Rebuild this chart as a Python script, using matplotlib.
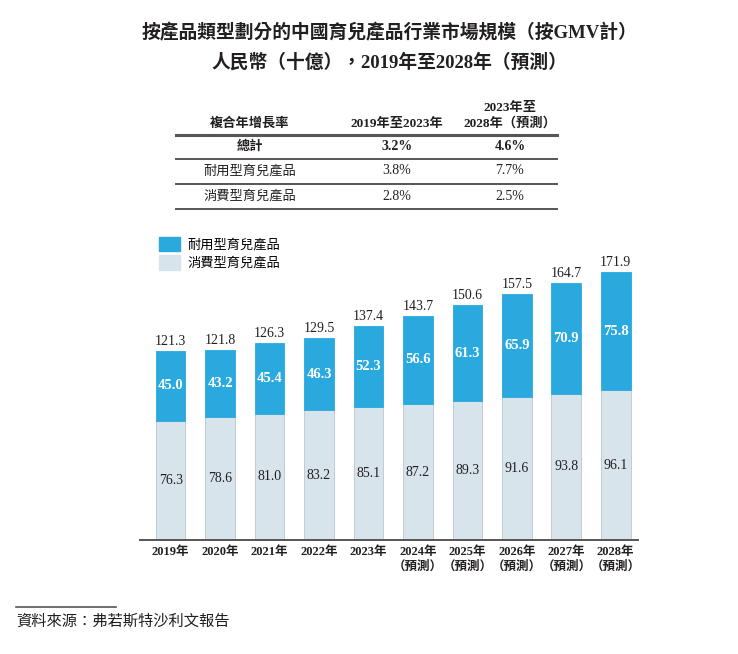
import numpy as np
import matplotlib.pyplot as plt
from matplotlib.patches import Patch
from matplotlib.lines import Line2D

plt.rcParams['font.family'] = ['Liberation Serif', 'Noto Sans CJK TC', 'DejaVu Sans']

years = ['2019年', '2020年', '2021年', '2022年', '2023年',
         '2024年\n（預測）', '2025年\n（預測）', '2026年\n（預測）',
         '2027年\n（預測）', '2028年\n（預測）']
durable = [45.0, 43.2, 45.4, 46.3, 52.3, 56.6, 61.3, 65.9, 70.9, 75.8]
consumable = [76.3, 78.6, 81.0, 83.2, 85.1, 87.2, 89.3, 91.6, 93.8, 96.1]
totals = [121.3, 121.8, 126.3, 129.5, 137.4, 143.7, 150.6, 157.5, 164.7, 171.9]

cagr_header = ['複合年增長率', '2019年至2023年', '2023年至\n2028年（預測）']
cagr_rows = ['總計', '耐用型育兒產品', '消費型育兒產品']
cagr_1923 = ['3.2%', '3.8%', '2.8%']
cagr_2328 = ['4.6%', '7.7%', '2.5%']

blue = '#2aa9df'
light = '#d7e4ec'
dark = '#231f20'

fig = plt.figure(figsize=(7.38, 6.54), dpi=100)

# title
fig.text(0.528, 0.950, '按產品類型劃分的中國育兒產品行業市場規模（按GMV計）',
         ha='center', va='center', fontsize=13.5, fontweight='bold', color=dark)
fig.text(0.528, 0.905, '人民幣（十億），2019年至2028年（預測）',
         ha='center', va='center', fontsize=13.5, fontweight='bold', color=dark)

# CAGR table, pixel coords converted to figure fraction
W, H = 738, 654
def fx(px):
    return px / W
def fy(py):
    return 1 - py / H

col_x = [250, 397, 510]
fig.text(fx(col_x[0]), fy(124), cagr_header[0], ha='center', va='center',
         fontsize=9.5, fontweight='bold', color=dark)
fig.text(fx(col_x[1]), fy(124), cagr_header[1], ha='center', va='center',
         fontsize=9.5, fontweight='bold', color=dark)
fig.text(fx(col_x[2]), fy(116), cagr_header[2], ha='center', va='center',
         fontsize=9.5, fontweight='bold', color=dark, linespacing=1.3)

line_y = [135, 159, 184, 209]
line_w = [2.2, 1.4, 1.4, 1.4]
for yy, lw in zip(line_y, line_w):
    fig.add_artist(Line2D([fx(176), fx(557)], [fy(yy), fy(yy)],
                          color='#555555', linewidth=lw))

row_y = [147, 171, 196]
for i, name in enumerate(cagr_rows):
    weight = 'bold' if i == 0 else 'normal'
    fig.text(fx(col_x[0]), fy(row_y[i]), name, ha='center', va='center',
             fontsize=9.5, fontweight=weight, color=dark)
    fig.text(fx(col_x[1]), fy(row_y[i]), cagr_1923[i], ha='center', va='center',
             fontsize=10, fontweight=weight, color=dark)
    fig.text(fx(col_x[2]), fy(row_y[i]), cagr_2328[i], ha='center', va='center',
             fontsize=10, fontweight=weight, color=dark)

# bar chart
ax = fig.add_axes([fx(140), fy(540), fx(638) - fx(140), (540 - 259.4) / H])
x = np.arange(len(years))
width = 0.6
ax.bar(x, consumable, width, color=light, edgecolor='#b9c6cf', linewidth=0.6)
ax.bar(x, durable, width, bottom=consumable, color=blue, edgecolor=blue, linewidth=0.6)

for i in range(len(years)):
    ax.text(x[i], consumable[i] / 2, f'{consumable[i]:.1f}', ha='center', va='center',
            fontsize=10, color=dark)
    ax.text(x[i], consumable[i] + durable[i] / 2, f'{durable[i]:.1f}', ha='center',
            va='center', fontsize=10.5, color='white', fontweight='bold')
    ax.text(x[i], totals[i] + 2.0, f'{totals[i]:.1f}', ha='center', va='bottom',
            fontsize=10, color=dark)

ax.set_xlim(-0.62, 9.45)
ax.set_ylim(0, 180)
ax.set_xticks(x)
ax.set_xticklabels(years, fontsize=9, fontweight='bold', color=dark, linespacing=1.35)
ax.tick_params(axis='x', length=0, pad=4)
ax.set_yticks([])
for s in ['top', 'right', 'left']:
    ax.spines[s].set_visible(False)
ax.spines['bottom'].set_color('#555555')
ax.spines['bottom'].set_linewidth(1.4)

handles = [Patch(facecolor=blue, edgecolor=blue, label='耐用型育兒產品'),
           Patch(facecolor=light, edgecolor=light, label='消費型育兒產品')]
fig.legend(handles=handles, loc='upper left', bbox_to_anchor=(fx(152), fy(230)),
           frameon=False, fontsize=9.5, handlelength=1.6, handleheight=1.3,
           handletextpad=0.6, labelspacing=0.3, borderpad=0)

# source footnote
fig.add_artist(Line2D([fx(16), fx(116)], [fy(607), fy(607)], color='#555555', linewidth=1.2))
fig.text(fx(16), fy(622), '資料來源：弗若斯特沙利文報告', ha='left', va='center',
         fontsize=11, color=dark, style='italic')

fig.savefig('out.png', dpi=100, facecolor='white')
